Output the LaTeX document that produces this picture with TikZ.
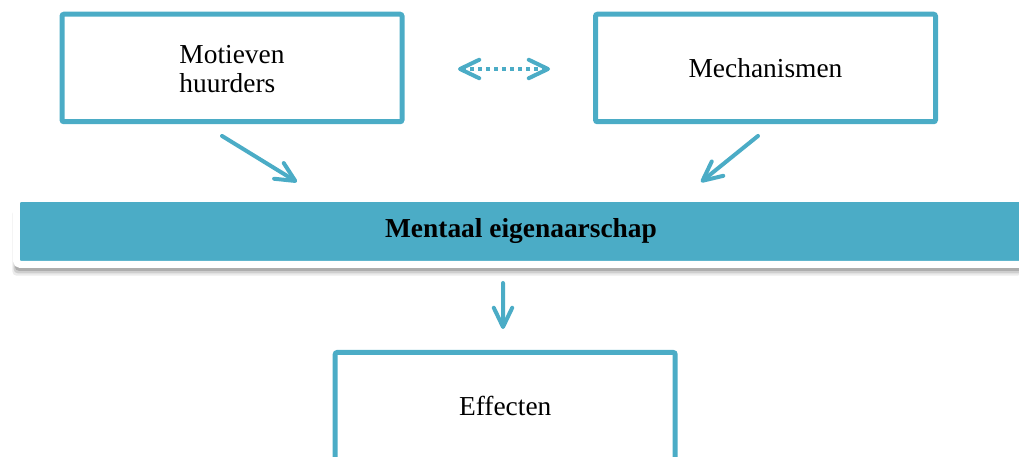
\documentclass[tikz,border=0pt]{standalone}
\usepackage{fontspec}
\setmainfont{Liberation Serif}
\usetikzlibrary{arrows.meta}
\usetikzlibrary{shadows}
\definecolor{accent}{RGB}{75,172,198}

\begin{document}
\begin{tikzpicture}[
  box/.style={draw=accent,line width=0.125cm,rounded corners=0.05cm,minimum width=8.5cm,minimum height=2.6875cm,outer sep=0pt,font=\fontsize{19.5}{20.6}\selectfont},
  bar/.style={fill=accent,draw=white,line width=0.175cm,rounded corners=0.1cm,minimum width=25.225cm,minimum height=1.65cm,outer sep=0pt,font=\fontsize{19.5}{21}\selectfont\bfseries,
    general shadow={shadow xshift=-0.1cm,shadow yshift=-0.28cm,fill=black,opacity=0.08},
    general shadow={shadow xshift=-0.07cm,shadow yshift=-0.22cm,fill=black,opacity=0.12},
    general shadow={shadow xshift=-0.04cm,shadow yshift=-0.16cm,fill=black,opacity=0.16}},
  arr/.style={accent,line width=0.1cm,line cap=round,-{Straight Barb[length=0.48cm,width=0.46cm,round]}},
  dotarr/.style={accent,line width=0.1cm,dash pattern=on 0.1cm off 0.1cm,{Straight Barb[length=0.48cm,width=0.46cm,round]}-{Straight Barb[length=0.48cm,width=0.46cm,round]}}
]
\path[use as bounding box,clip] (0,0) rectangle (25.475,11.425);

\node[box] (mot) at (5.8,9.725) {\raisebox{-0.1cm}[\height][\depth]{\begin{tabular}{@{}l@{}}Motieven\\huurders\end{tabular}}};
\node[box] (mech) at (19.1375,9.725) {Mechanismen};
\node[bar] (ment) at (13.025,5.6375) {Mentaal eigenaarschap};
\node[box] (eff) at (12.63,1.26875) {Effecten};

\draw[dotarr] ([xshift=1.4cm,yshift=-0.025cm]mot.east) -- ([xshift=-1.1375cm,yshift=-0.025cm]mech.west);
\draw[arr] ([xshift=-0.25cm,yshift=-0.355cm]mot.south) -- ([xshift=-5.6cm,yshift=0.4125cm]ment.north);
\draw[arr] ([xshift=-0.1875cm,yshift=-0.355cm]mech.south) -- ([xshift=4.5cm,yshift=0.4125cm]ment.north);
\draw[arr] ([xshift=-0.45cm,yshift=-0.4625cm]ment.south) -- ([xshift=-0.055cm,yshift=0.5875cm]eff.north);

\end{tikzpicture}
\end{document}
